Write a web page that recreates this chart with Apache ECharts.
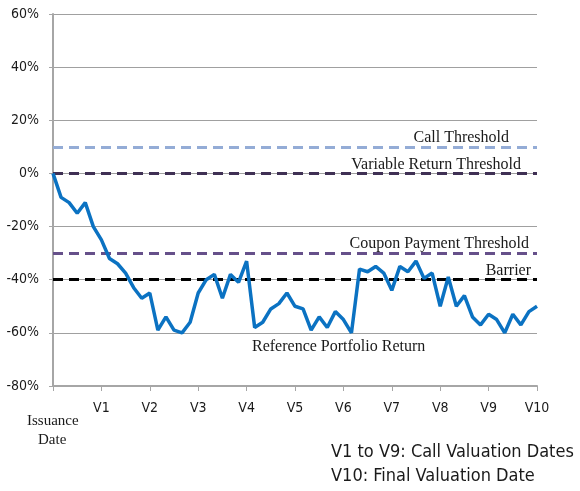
<!DOCTYPE html>
<html>
<head>
<meta charset="utf-8">
<script src="https://cdn.jsdelivr.net/npm/echarts@6/dist/echarts.min.js"></script>
<style>
  html, body { margin: 0; padding: 0; background: #fff; }
  #main { width: 580px; height: 491px; }
</style>
</head>
<body>
<div id="main"></div>
<script>
// valuation dates on the x axis, 6 observations per period
const periodLabels = ["", "V1", "V2", "V3", "V4", "V5", "V6", "V7", "V8", "V9", "V10"];
const stepsPerPeriod = 6;

// reference portfolio return in %, one value per observation (61 points)
const portfolioReturn = [
  0, -9, -11, -15, -11, -20, -25,
  -32, -34, -37.5, -43, -47, -45,
  -59, -54, -59, -60, -56, -45,
  -40, -38, -47, -38, -41, -33,
  -58, -56, -51, -49, -45, -50,
  -51, -59, -54, -58, -52, -55,
  -60, -36, -37, -35, -37.5, -44,
  -35, -37, -33, -39.5, -37.5, -50,
  -39, -50, -46, -54, -57, -53,
  -55, -60, -53, -57, -52, -50
];

// threshold lines
const thresholdNames = ["Call Threshold", "Variable Return Threshold", "Coupon Payment Threshold", "Barrier"];
const thresholdValues = [10, 0, -30, -40];
const thresholdColors = ["#94acd6", "#3f3054", "#66508a", "#000000"];
const labelShift = [27, 15, 7, 5]; // px from right end of plot

const yTicks = { min: -80, max: 60, step: 20 };

const serif = "'Liberation Serif', 'Times New Roman', serif";
const sans = "'DejaVu Sans Condensed', 'DejaVu Sans', sans-serif";

const chart = echarts.init(document.getElementById("main"));

const lineData = portfolioReturn.map((v, i) => [i, v]);

const markData = thresholdValues.map((v, i) => ({
  name: thresholdNames[i],
  yAxis: v,
  lineStyle: { color: thresholdColors[i], width: 3, type: [10, 6] },
  label: {
    show: true,
    position: "insideEndTop",
    formatter: "{b}",
    distance: 1,
    padding: [0, labelShift[i], 0, 0],
    color: "#1a1a1a",
    fontFamily: serif,
    fontSize: 16
  }
}));

const option = {
  animation: false,
  grid: { left: 53, right: 43, top: 14, bottom: 105 },
  xAxis: {
    type: "value",
    min: 0,
    max: stepsPerPeriod * (periodLabels.length - 1),
    interval: stepsPerPeriod,
    axisLine: { show: true, onZero: false, lineStyle: { color: "#a6a6a6", width: 2 } },
    axisTick: { show: true, length: 5, lineStyle: { color: "#a6a6a6", width: 1 } },
    splitLine: { show: false },
    axisLabel: {
      margin: 15,
      color: "#1a1a1a",
      fontFamily: sans,
      fontSize: 14,
      formatter: (v) => periodLabels[Math.round(v / stepsPerPeriod)]
    }
  },
  yAxis: {
    type: "value",
    min: yTicks.min,
    max: yTicks.max,
    interval: yTicks.step,
    axisLine: { show: true, onZero: false, lineStyle: { color: "#a6a6a6", width: 2 } },
    axisTick: { show: true, length: 4, lineStyle: { color: "#a6a6a6" } },
    splitLine: { show: true, lineStyle: { color: "#a0a0a0", width: 1 } },
    axisLabel: {
      margin: 14,
      color: "#1a1a1a",
      fontFamily: sans,
      fontSize: 14,
      formatter: "{value}%"
    }
  },
  series: [
    {
      name: "Reference Portfolio Return",
      type: "line",
      data: lineData,
      symbol: "none",
      z: 3,
      lineStyle: { color: "#0b72c2", width: 3.5 },
      markLine: {
        symbol: ["none", "none"],
        silent: true,
        z: 2,
        data: markData
      }
    }
  ],
  graphic: [
    {
      type: "text", left: 252, top: 339,
      style: { text: "Reference Portfolio Return", font: "16px " + serif, fill: "#1a1a1a" }
    },
    {
      type: "text", left: 27, top: 414,
      style: { text: "Issuance", font: "15px " + serif, fill: "#1a1a1a" }
    },
    {
      type: "text", left: 38, top: 433,
      style: { text: "Date", font: "15px " + serif, fill: "#1a1a1a" }
    },
    {
      type: "text", left: 331, top: 443,
      style: { text: "V1 to V9: Call Valuation Dates", font: "18px " + sans, fill: "#1a1a1a" }
    },
    {
      type: "text", left: 331, top: 467,
      style: { text: "V10: Final Valuation Date", font: "18px " + sans, fill: "#1a1a1a" }
    }
  ]
};

chart.setOption(option);
</script>
</body>
</html>
